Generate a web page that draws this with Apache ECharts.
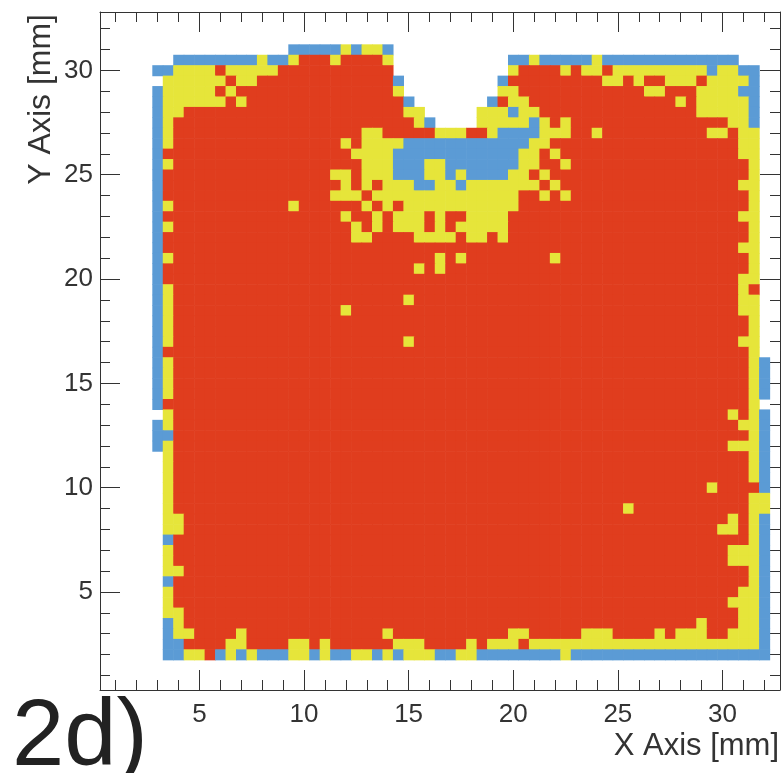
<!DOCTYPE html>
<html>
<head>
<meta charset="utf-8">
<title>2d)</title>
<script src="https://cdn.jsdelivr.net/npm/echarts@6/dist/echarts.min.js"></script>
<style>
  html, body { margin: 0; padding: 0; background: #fff; }
  #chart { width: 782px; height: 773px; }
</style>
</head>
<body>
<div id="chart"></div>
<script>
// bin centre of the first column and of the top row, bin width (mm)
const xStart = 3.0
const yStart = 31.0
const binSize = 0.5

// one string per row of bins, top row first, run-length coded ("13." = 13 empty bins)
// B = low (blue), Y = middle (yellow), R = high (red), . = empty
const rows = [
  '13. 5B Y B 2Y B 36.',
  '2. 8B Y 2B Y 3R Y 4R Y 11. 2B Y 5B Y 13B 3.',
  '2B 4Y R 5Y 11R 11. Y 4R Y R 2Y R 9Y B 2Y 2B .',
  '. 6Y R 2Y 13R B 9. B 9R 2Y R Y 2R 3Y R 4Y B .',
  'B 5Y R Y 15R Y 9. 2Y 12R 2Y 3R 4Y 2B .',
  'B 6Y R Y 15R B 7. B R 2Y 14R Y R 5Y B .',
  'B 2Y 21R 2Y 5. 3Y B 2Y 15R 5Y B .',
  'B Y 23R Y B 4. 5Y B Y R Y 15R 2Y B .',
  'B Y 18R 2Y 5R 3Y 2R Y 4B 3Y 2R Y 10R 2Y R 2Y .',
  'B Y 16R Y R 4Y 12B 2Y 18R 2Y .',
  'B 18R 4Y 12B 2Y R Y 17R 2Y .',
  'B Y 18R 3Y 3B 2Y 7B 2Y 2R Y 17R Y .',
  'B 16R 2Y R 3Y 3B 2Y B Y 4B 2Y R Y 19R Y .',
  'B 17R Y R Y R 3Y 2B 2Y B 7Y R Y 17R 2Y .',
  'B 16R 3Y R 14Y 2R Y R Y 17R Y .',
  'B Y 11R Y 6R Y R Y R 11Y 22R Y .',
  'B 17R Y 2R Y R 3Y R Y 2R 4Y 22R 2Y .',
  'B Y 17R Y R Y R 3Y R Y R 5Y 23R Y .',
  'B 18R 2Y 4R 4Y R 2Y R Y 23R Y .',
  'B 55R 2Y .',
  'B Y 25R Y R Y 8R Y 18R Y .',
  'B 24R Y R Y 29R Y .',
  'B 55R 2Y .',
  'B Y 54R Y R .',
  'B Y 22R Y 31R 2Y .',
  'B Y 16R Y 37R 2Y .',
  'B Y 55R Y .',
  'B Y 55R Y .',
  'B Y 22R Y 31R 2Y .',
  'B 56R Y .',
  'B Y 55R Y B',
  'B Y 55R Y B',
  'B Y 55R Y B',
  'B Y 55R Y B',
  'B 56R Y .',
  '. Y 53R Y R Y B',
  'B Y 54R 2Y B',
  '2B 55R Y B',
  'B Y 53R 3Y B',
  '. Y 55R Y B',
  '. Y 55R Y B',
  '. Y 55R Y B',
  '. Y 51R Y 4R B',
  '. Y 55R 2Y',
  '. Y 43R Y 11R 2Y',
  '. 2Y 52R Y R Y B',
  '. 2Y 51R 2Y R Y B',
  '. B 55R Y B',
  '. Y 53R 3Y B',
  '. Y 53R 3Y B',
  '. 2Y 54R Y B',
  '. B 55R Y B',
  '. Y 54R 2Y B',
  '. Y 53R 3Y B',
  '. 2Y 53R 2Y B',
  '. B Y 49R Y 3R 2Y B',
  '. B 2Y 4R Y 13R Y 11R 2Y 5R 3Y 4R Y R 3Y 2R 3Y B',
  '. 2B 4R 2Y 4R 2Y R Y 6R 3Y 4R Y R 3Y R 22Y B',
  '. 2B 2Y R B Y B Y 3B 2Y B Y 2B 2Y B Y B 3Y 2B 2Y 8B Y 19B'
]

const majorTicks = [5, 10, 15, 20, 25, 30]
const minorTicks = [1, 2, 3, 4, 5, 6, 7, 8, 9, 10, 11, 12, 13, 14, 15, 16,
  17, 18, 19, 20, 21, 22, 23, 24, 25, 26, 27, 28, 29, 30, 31, 32]

const levels = { B: 1, Y: 2, R: 3 }
const levelColors = ['#ffffff', '#5b9bd5', '#e6e53a', '#e03d1e']

const xRange = [0.25, 32.75]
const yRange = [0.3, 32.8]

const cells = []
rows.forEach((row, r) => {
  let col = 0
  row.split(' ').forEach(tok => {
    const n = tok.length > 1 ? parseInt(tok, 10) : 1
    const c = tok[tok.length - 1]
    for (let i = 0; i < n; i++, col++) {
      if (c !== '.') cells.push([xStart + col * binSize, yStart - r * binSize, levels[c]])
    }
  })
})

const font = '"Liberation Sans", Arial, Helvetica, sans-serif'
const lineStyle = { color: '#333', width: 1 }

function axis(position, ticks, len, withLine, labelMargin, range) {
  return {
    type: 'value',
    position: position,
    min: range[0],
    max: range[1],
    axisLine: { show: withLine, onZero: false, lineStyle: lineStyle },
    axisTick: { show: true, inside: true, length: len, customValues: ticks, lineStyle: lineStyle },
    axisLabel: labelMargin != null
      ? { show: true, customValues: majorTicks, fontSize: 26, margin: labelMargin, color: '#333', fontFamily: font }
      : { show: false },
    splitLine: { show: false },
    minorTick: { show: false }
  }
}

const chart = echarts.init(document.getElementById('chart'), null, { renderer: 'canvas' })

chart.setOption({
  animation: false,
  backgroundColor: '#fff',
  grid: { left: 100, top: 12, width: 680, height: 678, outerBoundsMode: 'none' },
  xAxis: [
    axis('bottom', majorTicks, 20, true, 12, xRange),
    axis('bottom', minorTicks, 10, false, null, xRange),
    axis('top', majorTicks, 20, true, null, xRange),
    axis('top', minorTicks, 10, false, null, xRange)
  ],
  yAxis: [
    axis('left', majorTicks, 20, true, 7, yRange),
    axis('left', minorTicks, 10, false, null, yRange),
    axis('right', majorTicks, 20, true, null, yRange),
    axis('right', minorTicks, 10, false, null, yRange)
  ],
  series: [
    {
      type: 'custom',
      coordinateSystem: 'cartesian2d',
      xAxisIndex: 0,
      yAxisIndex: 0,
      clip: true,
      encode: { x: 0, y: 1 },
      data: cells,
      renderItem: (params, api) => {
        const c = api.coord([api.value(0), api.value(1)])
        const s = api.size([binSize, binSize])
        return {
          type: 'rect',
          shape: { x: c[0] - s[0] / 2, y: c[1] - s[1] / 2, width: s[0] + 0.6, height: s[1] + 0.6 },
          style: { fill: levelColors[api.value(2)] }
        }
      }
    }
  ],
  graphic: [
    {
      type: 'text', x: 41, y: 14, rotation: Math.PI / 2,
      style: { text: 'Y Axis [mm]', fontSize: 32, fontFamily: font, fill: '#333', align: 'right', verticalAlign: 'middle' }
    },
    {
      type: 'text', x: 779, y: 746,
      style: { text: 'X Axis [mm]', fontSize: 31, fontFamily: font, fill: '#333', align: 'right', verticalAlign: 'middle' }
    },
    {
      type: 'text', x: 12, y: 739,
      style: { text: '2d)', fontSize: 94, fontFamily: font, fill: '#222', align: 'left', verticalAlign: 'middle' }
    }
  ]
})
</script>
</body>
</html>
